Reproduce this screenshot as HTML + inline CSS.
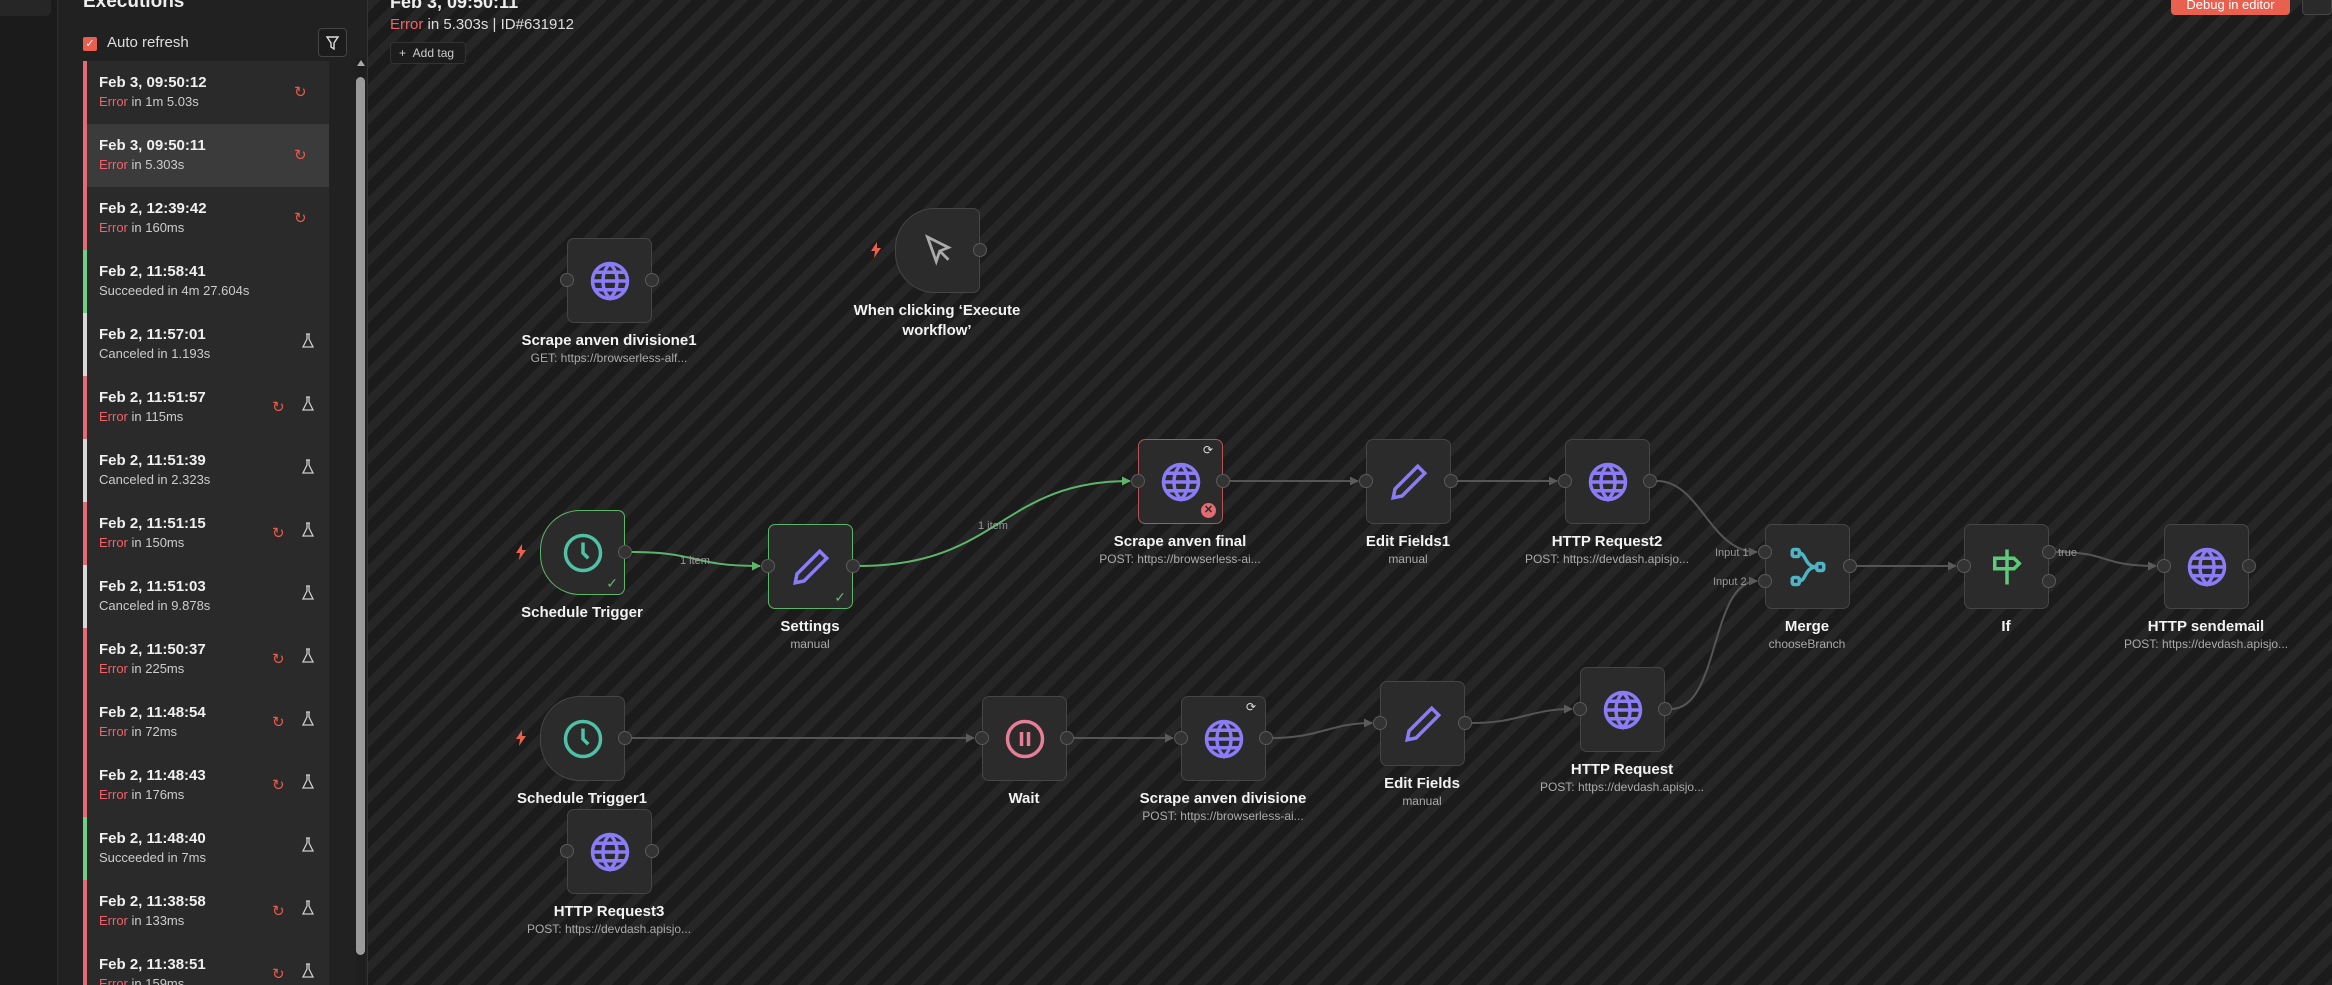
<!DOCTYPE html>
<html style="overflow:hidden;height:985px"><head><meta charset="utf-8"><style>
*{margin:0;padding:0;box-sizing:border-box}
body{width:2332px;height:985px;overflow:hidden;background:#1d1d1d;font-family:"Liberation Sans",sans-serif;position:relative;color:#eee}
.abs{position:absolute}
#strip{left:0;top:0;width:58px;height:985px;background:#1b1b1b;border-right:1px solid #2e2e2e}
#side{left:58px;top:0;width:310px;height:985px;background:#212121;border-right:1px solid #333}
#canvas{left:368px;top:0;width:1964px;height:985px;background:repeating-linear-gradient(135deg,#262626 0 9px,#1b1b1b 9px 20px)}
.item{position:absolute;left:83px;width:246px;height:63px;background:#2a2a2a;border-left:4px solid #e36b74}
.item .t{position:absolute;left:12px;top:13px;font-size:15px;font-weight:bold;color:#f0f0f0}
.item .s{position:absolute;left:12px;top:33px;font-size:13px;color:#ccc}
.item .s b{color:#f0626b;font-weight:normal}
.ic{position:absolute;top:22px;font-size:15px;color:#e85a4a}
.fl{position:absolute;top:20px;left:215px;width:12px;height:16px}
.node{position:absolute;width:85px;height:85px;background:#2b2b2b;border:1.5px solid #454545;border-radius:7px}
.port{position:absolute;width:14px;height:14px;border-radius:50%;background:#333;border:1.5px solid #5a5a5a}
.lbl{position:absolute;width:240px;text-align:center;font-size:15px;font-weight:bold;color:#f2f2f2}
.sub{position:absolute;width:240px;text-align:center;font-size:12px;color:#aaa}
.node svg{position:absolute;left:21px;top:21px}
</style></head><body>
<div class="abs" id="strip"><div class="abs" style="left:0;top:0;width:51px;height:16px;background:#262626;border-radius:0 0 6px 0"></div></div>
<div class="abs" id="side">
<div class="abs" style="left:25px;top:-9px;font-size:19px;font-weight:bold;color:#eee">Executions</div>
<div class="abs" style="left:25px;top:37px;width:14px;height:14px;background:#e9604f;border-radius:2px;color:#fff;font-size:11px;text-align:center;line-height:14px">✓</div>
<div class="abs" style="left:49px;top:34px;font-size:15px;color:#ddd">Auto refresh</div>
<div class="abs" style="left:260px;top:28px;width:29px;height:29px;border:1px solid #444;border-radius:4px;background:#1c1c1c"><svg width="27" height="27" viewBox="0 0 27 27"><path d="M8 8h11l-4 6v6l-3-2v-4z" fill="none" stroke="#ddd" stroke-width="1.4"/></svg></div>
<div class="abs" style="left:298px;top:58px;width:9px;height:927px;background:#1e1e1e"></div>
<div class="abs" style="left:298px;top:77px;width:9px;height:878px;background:#9a9a9a;border-radius:5px"></div>
<div class="abs" style="left:299px;top:60px;width:0;height:0;border-left:4px solid transparent;border-right:4px solid transparent;border-bottom:6px solid #aaa"></div>
</div>
<div class="abs" id="canvas"></div>
<div id="list"></div>
<script>
var d=[["Feb 3, 09:50:12","Error","in 1m 5.03s","r","R"],["Feb 3, 09:50:11","Error","in 5.303s","r","R"],["Feb 2, 12:39:42","Error","in 160ms","r","R"],["Feb 2, 11:58:41","","Succeeded in 4m 27.604s","g",""],["Feb 2, 11:57:01","","Canceled in 1.193s","w","F"],["Feb 2, 11:51:57","Error","in 115ms","r","RF"],["Feb 2, 11:51:39","","Canceled in 2.323s","w","F"],["Feb 2, 11:51:15","Error","in 150ms","r","RF"],["Feb 2, 11:51:03","","Canceled in 9.878s","w","F"],["Feb 2, 11:50:37","Error","in 225ms","r","RF"],["Feb 2, 11:48:54","Error","in 72ms","r","RF"],["Feb 2, 11:48:43","Error","in 176ms","r","RF"],["Feb 2, 11:48:40","","Succeeded in 7ms","g","F"],["Feb 2, 11:38:58","Error","in 133ms","r","RF"],["Feb 2, 11:38:51","Error","in 159ms","r","RF"]];
var h="",col={r:"#e36b74",g:"#6fcf87",w:"#d8d8d8"};
d.forEach(function(e,i){var top=61+i*63;h+='<div class="item" style="top:'+top+'px;border-left-color:'+col[e[3]]+(i==1?';background:#3b3b3b':'')+'"><div class="t">'+e[0]+'</div><div class="s">'+(e[1]?'<b>'+e[1]+'</b> ':'')+e[2]+'</div>';
if(e[4]=="R")h+='<div class="ic" style="left:207px">↻</div>';
if(e[4]=="RF")h+='<div class="ic" style="left:185px">↻</div>';
if(e[4].indexOf("F")>=0)h+='<svg class="fl" viewBox="0 0 12 16"><path d="M4 1h4M5 1v5L1 14h10L7 6V1" fill="none" stroke="#ccc" stroke-width="1.3"/></svg>';
h+='</div>'});
document.getElementById("list").innerHTML=h;
</script>
<div class="abs" style="left:390px;top:-8px;font-size:18px;font-weight:bold;color:#eee">Feb 3, 09:50:11</div>
<div class="abs" style="left:390px;top:16px;font-size:15px;color:#ddd"><span style="color:#f0626b">Error</span> in 5.303s | ID#631912</div>
<div class="abs" style="left:390px;top:42px;width:76px;height:22px;border:1px solid #333;border-radius:4px;background:#1c1c1c;font-size:12px;color:#ccc;line-height:20px;padding-left:8px">+ &nbsp;Add tag</div>
<div class="abs" style="left:2171px;top:-8px;width:119px;height:23px;background:#e9604f;border-radius:4px;color:#fff;font-size:13px;text-align:center;line-height:26px">Debug in editor</div>
<div class="abs" style="left:2302px;top:-8px;width:30px;height:23px;background:#2a2a2a;border:1px solid #444;border-radius:4px"></div>

<svg class="abs" style="left:0;top:0" width="2332" height="985">
<defs><marker id="ag" markerUnits="userSpaceOnUse" markerWidth="9" markerHeight="9" refX="8" refY="4.5" orient="auto"><path d="M0 0L9 4.5L0 9z" fill="#5db56a"/></marker>
<marker id="a" markerUnits="userSpaceOnUse" markerWidth="9" markerHeight="9" refX="8" refY="4.5" orient="auto"><path d="M0 0L9 4.5L0 9z" fill="#5a5a5a"/></marker></defs>
<g fill="none" stroke-width="2">
<path d="M630 552C700 552 690 566 760 566" stroke="#5db56a" marker-end="url(#ag)"/>
<path d="M858 566C1000 566 1000 481 1130 481" stroke="#5db56a" marker-end="url(#ag)"/>
<g stroke="#555">
<path d="M1229 481H1358" marker-end="url(#a)"/>
<path d="M1457 481H1557" marker-end="url(#a)"/>
<path d="M1657 481C1700 481 1710 552 1757 552" marker-end="url(#a)"/>
<path d="M1671 709C1720 709 1710 581 1757 581" marker-end="url(#a)"/>
<path d="M1856 566H1956" marker-end="url(#a)"/>
<path d="M2056 552C2110 552 2100 566 2156 566" marker-end="url(#a)"/>
<path d="M630 738H974" marker-end="url(#a)"/>
<path d="M1073 738H1173" marker-end="url(#a)"/>
<path d="M1272 738C1320 738 1330 723 1372 723" marker-end="url(#a)"/>
<path d="M1472 723C1520 723 1530 709 1572 709" marker-end="url(#a)"/>
</g></g>
<g font-family="Liberation Sans" font-size="11" fill="#999">
<text x="680" y="564">1 item</text><text x="978" y="529">1 item</text>
<text x="1715" y="556">Input 1</text><text x="1713" y="585">Input 2</text>
<text x="2058" y="556">true</text></g>
</svg>

<div id="nodes"></div>
<script>
var G='<svg width="42" height="42" viewBox="0 0 24 24" fill="none" stroke="#8b7cf6" stroke-width="2"><circle cx="12" cy="12" r="10"/><path d="M2 12h20M12 2c3 3 4 6 4 10s-1 7-4 10c-3-3-4-6-4-10s1-7 4-10M4 7h16M4 17h16"/></svg>';
var P='<svg width="42" height="42" viewBox="0 0 24 24" fill="none" stroke="#8b7cf6" stroke-width="2"><path d="M17 3l4 4L8 20l-5 1 1-5z"/></svg>';
var C='<svg width="42" height="42" viewBox="0 0 24 24" fill="none" stroke="#4fc1a5" stroke-width="2"><circle cx="12" cy="12" r="10"/><path d="M12 6v6l3 3"/></svg>';
var W='<svg width="42" height="42" viewBox="0 0 24 24" fill="none" stroke="#e87d9a" stroke-width="2"><circle cx="12" cy="12" r="10"/><path d="M10 8v8M14 8v8"/></svg>';
var M='<svg width="42" height="42" viewBox="0 0 24 24" fill="none" stroke="#4fb3c6" stroke-width="2"><rect x="3" y="2" width="4" height="4" rx="1"/><rect x="3" y="18" width="4" height="4" rx="1"/><rect x="17" y="10" width="4" height="4" rx="1"/><path d="M7 4c4 0 3 8 10 8M7 20c4 0 3-8 10-8"/></svg>';
var I='<svg width="42" height="42" viewBox="0 0 24 24" fill="none" stroke="#5ec97a" stroke-width="2"><path d="M12 2v20M5 7h11l3 3-3 3H5z"/></svg>';
var K='<svg width="42" height="42" viewBox="0 0 24 24" fill="none" stroke="#aaa" stroke-width="1.6"><path d="M6 4l12 6-5 2-2 6z M13 12l5 5"/></svg>';
var B='<svg width="12" height="16" viewBox="0 0 12 16"><path d="M7 0L1 9h4l-1 7 7-10H7z" fill="#e9604f"/></svg>';
var N=[[567,238,G,"Scrape anven divisione1","GET: https://browserless-alf...",0,"io"],
[895,208,K,"When clicking ‘Execute<br>workflow’","",1,"o"],
[540,510,C,"Schedule Trigger","",1,"o","g"],
[768,524,P,"Settings","manual",0,"io","g"],
[1138,439,G,"Scrape anven final","POST: https://browserless-ai...",0,"io","r"],
[1366,439,P,"Edit Fields1","manual",0,"io"],
[1565,439,G,"HTTP Request2","POST: https://devdash.apisjo...",0,"io"],
[1765,524,M,"Merge","chooseBranch",0,"m"],
[1964,524,I,"If","",0,"f"],
[2164,524,G,"HTTP sendemail","POST: https://devdash.apisjo...",0,"io"],
[540,696,C,"Schedule Trigger1","",1,"o"],
[982,696,W,"Wait","",0,"io"],
[1181,696,G,"Scrape anven divisione","POST: https://browserless-ai...",0,"io"],
[1380,681,P,"Edit Fields","manual",0,"io"],
[1580,667,G,"HTTP Request","POST: https://devdash.apisjo...",0,"io"],
[567,809,G,"HTTP Request3","POST: https://devdash.apisjo...",0,"io"]];
var h="";
N.forEach(function(n){var x=n[0],y=n[1],st="left:"+x+"px;top:"+y+"px;";
if(n[5])st+="border-radius:40px 7px 7px 40px;";
if(n[7]=="g")st+="border-color:#5db56a;";
if(n[7]=="r")st+="border-color:#b5525a;";
h+='<div class="node" style="'+st+'">'+n[2];
if(n[7]=="g")h+='<div class="abs" style="right:6px;bottom:2px;color:#5db56a;font-size:14px">✓</div>';
h+='</div>';
var cy=y+42;
if(n[6].indexOf("i")>=0)h+='<div class="port" style="left:'+(x-7)+'px;top:'+(cy-7)+'px"></div>';
if(n[6].indexOf("o")>=0)h+='<div class="port" style="left:'+(x+78)+'px;top:'+(cy-7)+'px"></div>';
if(n[6]=="m"){h+='<div class="port" style="left:'+(x-7)+'px;top:'+(y+21)+'px"></div><div class="port" style="left:'+(x-7)+'px;top:'+(y+50)+'px"></div><div class="port" style="left:'+(x+78)+'px;top:'+(cy-7)+'px"></div>';}
if(n[6]=="f"){h+='<div class="port" style="left:'+(x-7)+'px;top:'+(cy-7)+'px"></div><div class="port" style="left:'+(x+78)+'px;top:'+(y+21)+'px"></div><div class="port" style="left:'+(x+78)+'px;top:'+(y+50)+'px"></div>';}
if(n[5])h+='<div class="abs" style="left:'+(x-25)+'px;top:'+(cy-8)+'px">'+B+'</div>';
var ly=y+93;
h+='<div class="lbl" style="left:'+(x-78)+'px;top:'+ly+'px;line-height:20px">'+n[3]+'</div>';
if(n[4])h+='<div class="sub" style="left:'+(x-78)+'px;top:'+(ly+20)+'px">'+n[4]+'</div>';});
document.getElementById("nodes").innerHTML=h;
</script>
<div class="abs" style="left:1203px;top:443px;color:#ddd;font-size:12px">⟳</div>
<div class="abs" style="left:1201px;top:503px;width:15px;height:15px;border-radius:50%;background:#e36b74;color:#2b2b2b;font-size:11px;text-align:center;line-height:15px;font-weight:bold">✕</div>
<div class="abs" style="left:1246px;top:700px;color:#ddd;font-size:12px">⟳</div>
</body></html>
